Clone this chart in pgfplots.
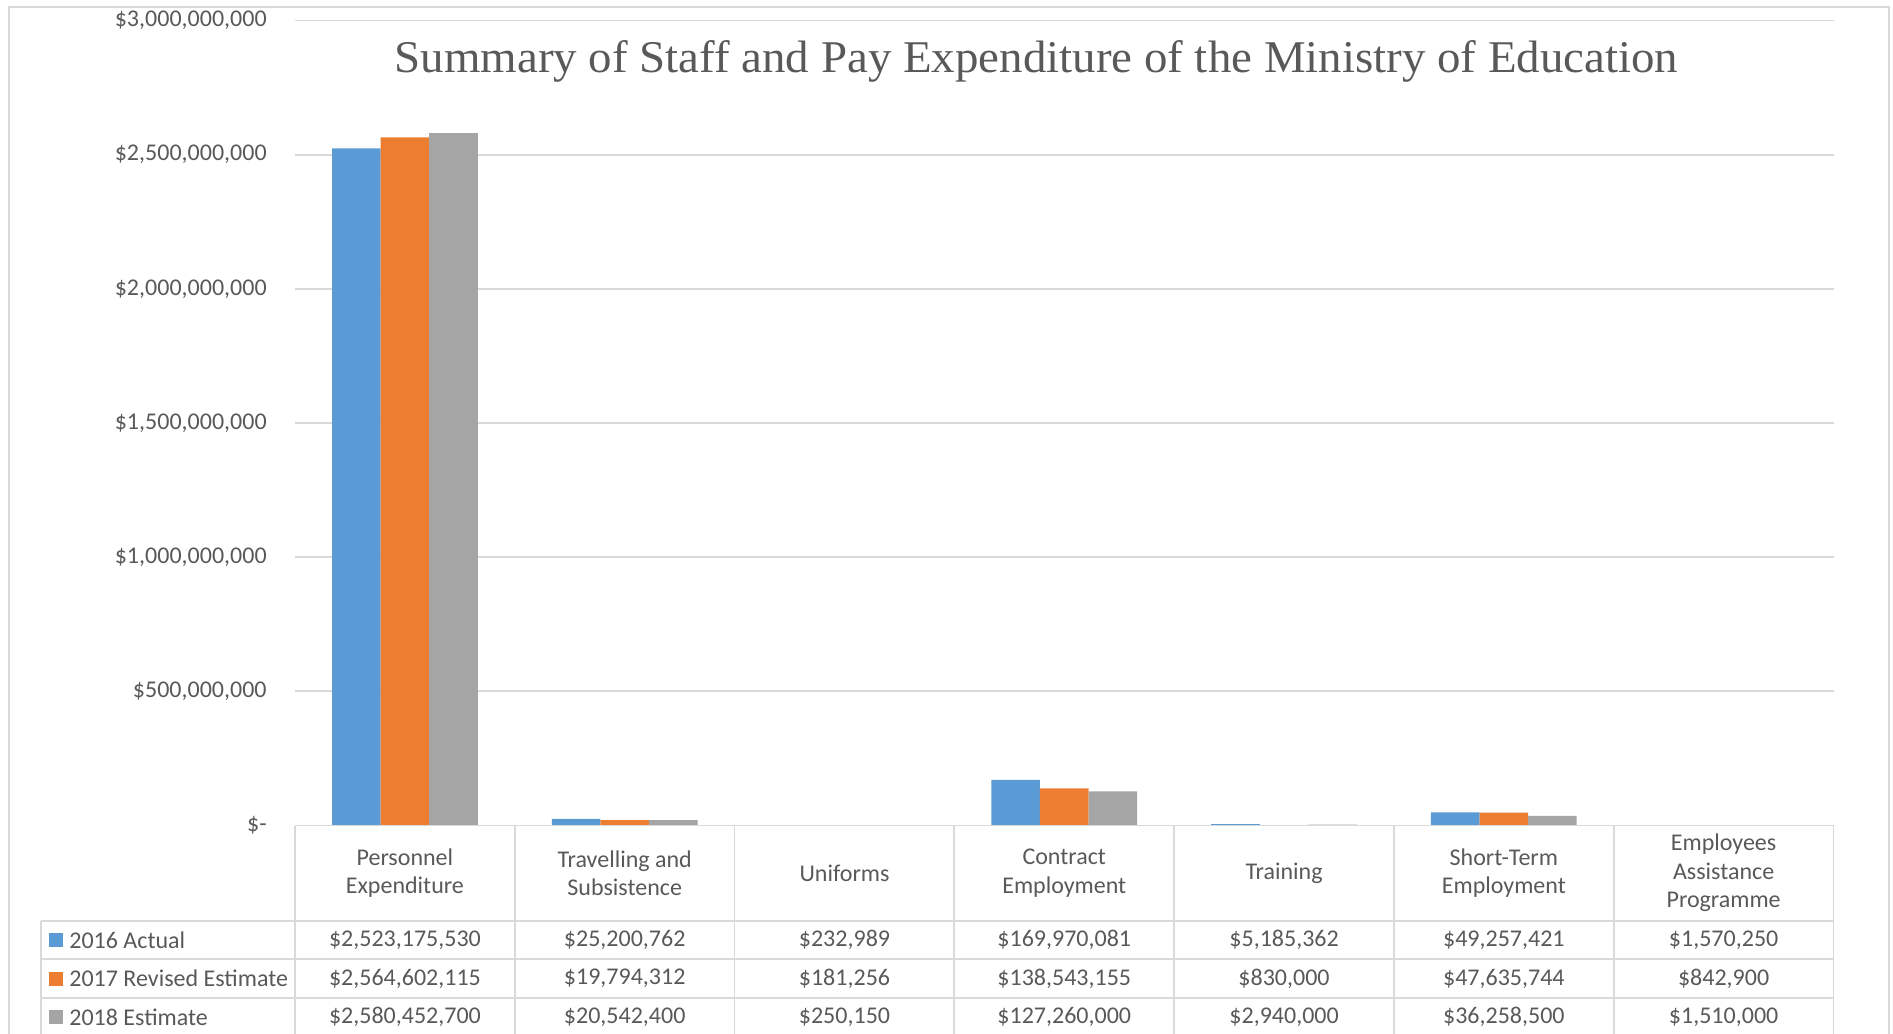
\documentclass[border=0pt]{standalone}
\usepackage{pgfplots}
\pgfplotsset{compat=1.18}
\usepackage{pgfplotstable}
\usepackage{fontspec}
\setmainfont{Carlito}
\newfontfamily\titlefont{Liberation Serif}
\definecolor{cblue}{HTML}{5B9BD5}
\definecolor{corange}{HTML}{ED7D31}
\definecolor{cgray}{HTML}{A5A5A5}
\definecolor{textc}{HTML}{595959}
\definecolor{gridc}{HTML}{D9D9D9}

\pgfplotstableread{
x a b c
0 2523175530 2564602115 2580452700
1 25200762 19794312 20542400
2 232989 181256 250150
3 169970081 138543155 127260000
4 5185362 830000 2940000
5 49257421 47635744 36258500
6 1570250 842900 1510000
}\datatable

\begin{document}
\begin{tikzpicture}
\begin{axis}[
  at={(147.5pt,-412.75pt)}, anchor=south west,
  scale only axis, width=769.25pt, height=402.5pt,
  xmin=-0.5, xmax=6.5, ymin=0, ymax=3000000000,
  xtick=\empty,
  ytick={0,500000000,1000000000,1500000000,2000000000,2500000000,3000000000},
  yticklabels={\$-\hspace{5.5pt},\$500{,}000{,}000,\$1{,}000{,}000{,}000,\$1{,}500{,}000{,}000,\$2{,}000{,}000{,}000,\$2{,}500{,}000{,}000,\$3{,}000{,}000{,}000},
  yticklabel style={font=\fontsize{12}{14}\selectfont, text=textc, inner sep=0pt, anchor=east, xshift=-14pt},
  axis line style={draw=none},
  major tick length=0pt,
  ymajorgrids, grid style={gridc, line width=0.9pt},
  clip=false,
]
\addplot[ybar, fill=cblue, draw=none, bar width=0.221, bar shift=-0.221] table[x=x,y=a]{\datatable};
\addplot[ybar, fill=corange, draw=none, bar width=0.221, bar shift=0] table[x=x,y=b]{\datatable};
\addplot[ybar, fill=cgray, draw=none, bar width=0.221, bar shift=0.221] table[x=x,y=c]{\datatable};
\end{axis}

\begin{scope}[x=0.5pt, y=-0.5pt]
  % outer border
  \draw[gridc, line width=0.65pt] (9,7) rectangle (1889,1080);
  % title
  \node[anchor=base, text=textc, inner sep=0pt] at (1036.5,72.7)
    {\resizebox{641.7pt}{\height}{\titlefont\fontsize{22.7}{27}\selectfont Summary of Staff and Pay Expenditure of the Ministry of Education}};
  % table lines
  \draw[gridc, line width=0.9pt] (295,825.5) -- (1833.5,825.5);
  \foreach \yy in {920.7,959.3,997.7,1036.1}
    \draw[gridc, line width=0.9pt] (41,\yy) -- (1833.5,\yy);
  \draw[gridc, line width=0.9pt] (41,920.7) -- (41,1060);
  \foreach \k in {0,...,7}
    \draw[gridc, line width=0.9pt] ({295+\k*219.786},825.5) -- ({295+\k*219.786},1060);
  % header
  \begin{scope}[every node/.style={text=textc, align=center, inner sep=0pt, font=\fontsize{12}{14.2}\selectfont}]
    \node at ({295+0.5*219.786},873) {Personnel\\Expenditure};
    \node at ({295+1.5*219.786},873) {Travelling and\\Subsistence};
    \node at ({295+2.5*219.786},873) {Uniforms};
    \node at ({295+3.5*219.786},873) {Contract\\Employment};
    \node at ({295+4.5*219.786},873) {Training};
    \node at ({295+5.5*219.786},873) {Short-Term\\Employment};
    \node at ({295+6.5*219.786},873) {Employees\\Assistance\\Programme};
    % row labels
    \fill[cblue] (49,933) rectangle (63,947);
    \fill[corange] (49,971.5) rectangle (63,985.5);
    \fill[cgray] (49,1010) rectangle (63,1024);
    \node[anchor=west] at (69,940) {2016 Actual};
    \node[anchor=west] at (69,978.5) {2017 Revised Estimate};
    \node[anchor=west] at (69,1017) {2018 Estimate};
    % values
    \foreach \v [count=\i from 0] in {\$2{,}523{,}175{,}530,\$25{,}200{,}762,\$232{,}989,\$169{,}970{,}081,\$5{,}185{,}362,\$49{,}257{,}421,\$1{,}570{,}250}
      \node at ({295+(\i+0.5)*219.786},940) {\v};
    \foreach \v [count=\i from 0] in {\$2{,}564{,}602{,}115,\$19{,}794{,}312,\$181{,}256,\$138{,}543{,}155,\$830{,}000,\$47{,}635{,}744,\$842{,}900}
      \node at ({295+(\i+0.5)*219.786},978.5) {\v};
    \foreach \v [count=\i from 0] in {\$2{,}580{,}452{,}700,\$20{,}542{,}400,\$250{,}150,\$127{,}260{,}000,\$2{,}940{,}000,\$36{,}258{,}500,\$1{,}510{,}000}
      \node at ({295+(\i+0.5)*219.786},1017) {\v};
  \end{scope}
\end{scope}
\pgfresetboundingbox
\useasboundingbox (0,0) rectangle (946.5pt,-516.5pt);
\end{tikzpicture}
\end{document}
